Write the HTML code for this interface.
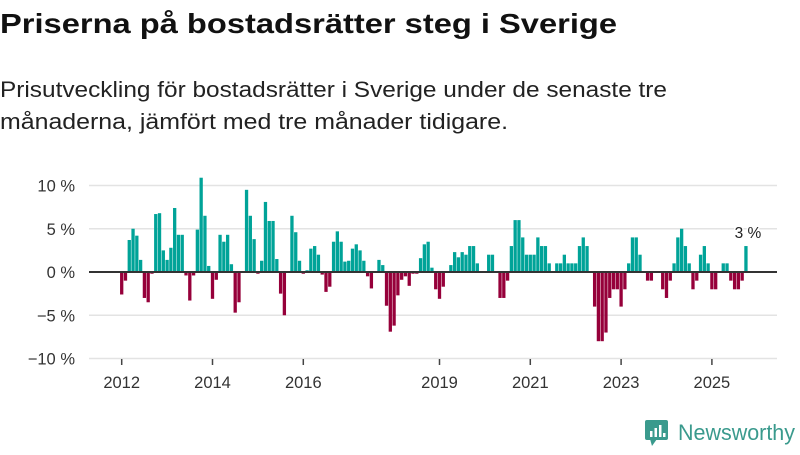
<!DOCTYPE html>
<html><head><meta charset="utf-8"><style>
body{margin:0;width:800px;height:450px;background:#fff;overflow:hidden;font-family:"Liberation Sans",sans-serif;color:#222}
</style></head><body>
<svg width="800" height="450" viewBox="0 0 800 450" xmlns="http://www.w3.org/2000/svg">
<text x="0" y="33" font-size="28" font-weight="bold" fill="#111" textLength="617" lengthAdjust="spacingAndGlyphs">Priserna på bostadsrätter steg i Sverige</text>
<text x="0" y="97" font-size="22" fill="#222" textLength="667" lengthAdjust="spacingAndGlyphs">Prisutveckling för bostadsrätter i Sverige under de senaste tre</text>
<text x="0" y="129" font-size="22" fill="#222" textLength="508" lengthAdjust="spacingAndGlyphs">månaderna, jämfört med tre månader tidigare.</text>
<g id="grid"></g><g id="bars"></g><g id="axis"></g>
<g>
<rect x="645" y="420" width="23" height="20" rx="2" fill="#3a9a8d"/>
<polygon points="650,439 657,439 652,446" fill="#3a9a8d"/>
<rect x="650" y="431" width="2.5" height="6" fill="#fff"/><rect x="654.5" y="428" width="2.5" height="9" fill="#fff"/><rect x="659" y="425" width="2.5" height="12" fill="#fff"/><rect x="663" y="433" width="2.5" height="4" fill="#fff"/>
<text x="678" y="440" font-size="22" fill="#3a9a8d" textLength="117" lengthAdjust="spacingAndGlyphs">Newsworthy</text>
</g>
</svg>
<script>
const startYear = 2012;
const values = [
-2.6,-1.0,3.7,5.0,4.2,1.4,-3.0,-3.5,-0.2,6.7,6.8,2.5,
1.4,2.8,7.4,4.3,4.3,-0.4,-3.3,-0.4,4.9,10.9,6.5,0.7,
-3.1,-0.9,4.3,3.5,4.3,0.9,-4.7,-3.5,0,9.5,6.5,3.8,
-0.2,1.3,8.1,5.9,5.9,1.5,-2.5,-5.0,0,6.5,4.6,1.3,
-0.2,0.2,2.7,3.0,2.0,-0.3,-2.3,-1.7,3.5,4.7,3.5,1.2,
1.3,2.7,3.2,2.5,1.3,-0.5,-1.9,0,1.4,0.8,-3.9,-6.9,
-6.2,-2.7,-0.9,-0.5,-1.6,-0.2,-0.2,1.6,3.2,3.5,0.5,-2.0,
-3.1,-1.7,0,0.8,2.3,1.7,2.3,2.0,3.0,3.0,1.0,0,
0,2,2,0,-3,-3,-1,3,6,6,4,2,
2,2,4,3,3,1,0,1,1,2,1,1,
1,3,4,3,0,-4,-8,-8,-7,-3,-2,-2,
-4,-2,1,4,4,2,0,-1,-1,0,0,-2,
-3,-1,1,4,5,3,1,-2,-1,2,3,1,
-2,-2,0,1,1,-1,-2,-2,-1,3];
const yTicks = [10,5,0,-5,-10];
const yTickLabels = ["10 %","5 %","0 %","−5 %","−10 %"];
const xTicks = [2012,2014,2016,2019,2021,2023,2025];
const NS="http://www.w3.org/2000/svg";
const x = t => 121.7 + (t-2012)*45.4;
const y = v => 272 - v*8.65;
function mk(tag,attrs,parent){const e=document.createElementNS(NS,tag);for(const k in attrs)e.setAttribute(k,attrs[k]);parent.appendChild(e);return e;}
const grid=document.getElementById('grid'),bars=document.getElementById('bars'),axis=document.getElementById('axis');
yTicks.forEach((t,i)=>{
  if(t!==0){const l=mk('line',{x1:89,x2:777,y1:y(t),y2:y(t),stroke:'#e3e3e3','stroke-width':1.5},grid);
  
  }
  const tx=mk('text',{x:75,y:y(t)+6,'font-size':16.5,'text-anchor':'end',fill:'#333'},axis);
  tx.textContent=yTickLabels[i];
  
  
});
values.forEach((v,i)=>{
  const cx=x(startYear+i/12);
  const r=mk('rect',{x:cx-1.65,width:3.3,y:Math.min(y(v),y(0)),height:Math.abs(y(v)-y(0)),fill:v>=0?'#00a398':'#96003a'},bars);
  
  
});
const base=mk('line',{x1:89,x2:777,y1:y(0),y2:y(0),stroke:'#333','stroke-width':2},axis);


xTicks.forEach(t=>{
  const tk=mk('line',{x1:x(t),x2:x(t),y1:359,y2:365,stroke:'#444','stroke-width':1.5},axis);
  
  
  const tx=mk('text',{x:x(t),y:388,'font-size':16.5,'text-anchor':'middle',fill:'#333'},axis);
  tx.textContent=t;
  
  
});
const last=values[values.length-1];
const lx=x(startYear+(values.length-1)/12);
const lbl=mk('text',{x:lx+2,y:y(last)-8,'font-size':15.5,'text-anchor':'middle',fill:'#222',stroke:'#fff','stroke-width':3,'paint-order':'stroke'},axis);
lbl.textContent=Math.round(last)+' %';


</script>
</body></html>
